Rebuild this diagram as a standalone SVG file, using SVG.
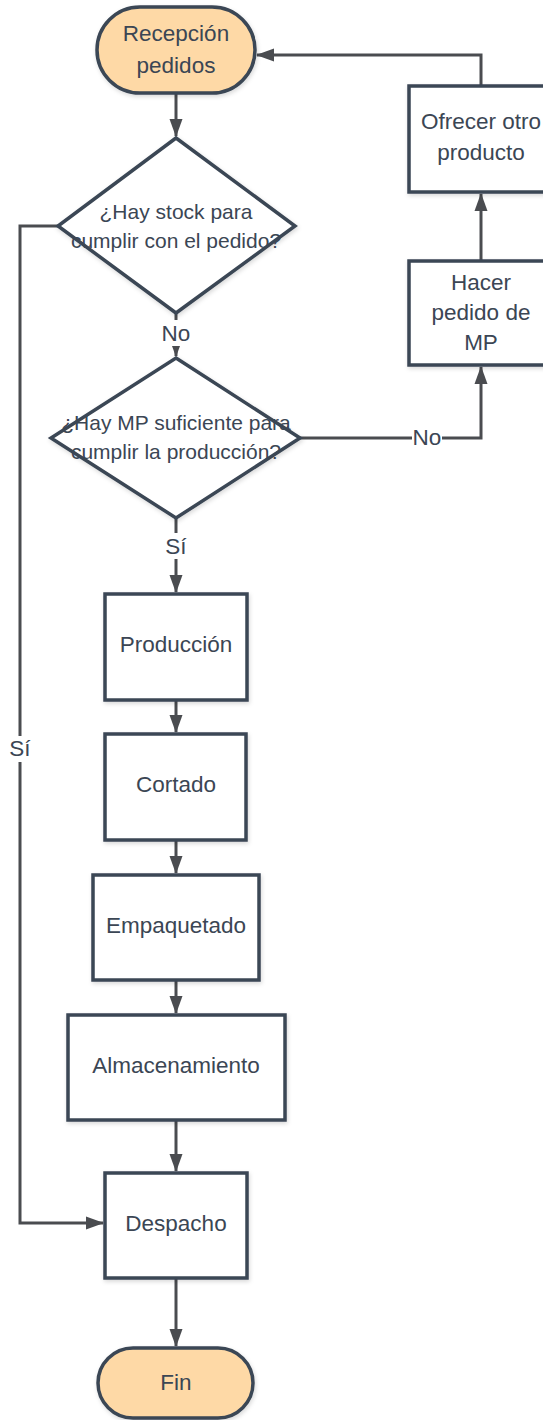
<svg xmlns="http://www.w3.org/2000/svg" width="543" height="1420" viewBox="0 0 543 1420">
<style>
.t{font-family:"Liberation Sans",Arial,sans-serif;font-size:22.5px;fill:#3b4654;text-anchor:middle}
.d{font-size:21px}
.term{fill:#fed9a6;stroke:#3b4654;stroke-width:3.5}
.box{fill:#ffffff;stroke:#3b4654;stroke-width:3.5}
.c{fill:none;stroke:#4a4c50;stroke-width:3}
.lbl{fill:#ffffff}
</style>
<defs>
<marker id="ah" markerWidth="18" markerHeight="14" refX="17" refY="7" orient="auto" markerUnits="userSpaceOnUse">
<path d="M0,0.5 L18,7 L0,13.5 Z" fill="#4a4c50"/>
</marker>
<filter id="sh" x="-10%" y="-10%" width="125%" height="125%">
<feDropShadow dx="1" dy="2" stdDeviation="2" flood-color="#000" flood-opacity="0.15"/>
</filter>
</defs>
<g id="connectors">
<path class="c" d="M176,93 L176,136" marker-end="url(#ah)"/>
<path class="c" d="M176,313 L176,356" marker-end="url(#ah)"/>
<path class="c" d="M300,438 L481,438 L481,367" marker-end="url(#ah)"/>
<path class="c" d="M481,261 L481,194" marker-end="url(#ah)"/>
<path class="c" d="M481,86 L481,55 L257,55" marker-end="url(#ah)"/>
<path class="c" d="M176,518 L176,592" marker-end="url(#ah)"/>
<path class="c" d="M176,700 L176,732" marker-end="url(#ah)"/>
<path class="c" d="M176,840 L176,873" marker-end="url(#ah)"/>
<path class="c" d="M176,980 L176,1013" marker-end="url(#ah)"/>
<path class="c" d="M176,1120 L176,1171" marker-end="url(#ah)"/>
<path class="c" d="M176,1278 L176,1346" marker-end="url(#ah)"/>
<path class="c" d="M58,226 L20,226 L20,1223 L103,1223" marker-end="url(#ah)"/>
<rect class="lbl" x="162" y="320" width="28" height="26"/>
<text class="t" x="176" y="341">No</text>
<rect class="lbl" x="412" y="426" width="30" height="24"/>
<text class="t" x="427" y="445">No</text>
<rect class="lbl" x="164" y="533" width="24" height="26"/>
<text class="t" x="176" y="554">Sí</text>
<rect class="lbl" x="8" y="736" width="24" height="26"/>
<text class="t" x="20" y="756">Sí</text>
</g>
<g id="recepcion">
<rect class="term" x="97" y="7" width="158" height="86" rx="43" filter="url(#sh)"/>
<text class="t" x="176" y="41">Recepción</text>
<text class="t" x="176" y="73">pedidos</text>
</g>
<g id="stock">
<polygon class="box" points="176,138 295,226 176,313 58,226" filter="url(#sh)"/>
<text class="t d" x="176" y="219">¿Hay stock para</text>
<text class="t d" x="176" y="248">cumplir con el pedido?</text>
</g>
<g id="mp">
<polygon class="box" points="176,358 300,438 176,518 51,438" filter="url(#sh)"/>
<text class="t d" x="176" y="430">¿Hay MP suficiente para</text>
<text class="t d" x="176" y="459">cumplir la producción?</text>
</g>
<g id="hacer">
<rect class="box" x="409" y="261" width="144" height="104" filter="url(#sh)"/>
<text class="t" x="481" y="290">Hacer</text>
<text class="t" x="481" y="320">pedido de</text>
<text class="t" x="481" y="350">MP</text>
</g>
<g id="ofrecer">
<rect class="box" x="409" y="86" width="144" height="106" filter="url(#sh)"/>
<text class="t" x="481" y="129">Ofrecer otro</text>
<text class="t" x="481" y="160">producto</text>
</g>
<g id="produccion">
<rect class="box" x="105" y="594" width="142" height="106" filter="url(#sh)"/>
<text class="t" x="176" y="652">Producción</text>
</g>
<g id="cortado">
<rect class="box" x="105" y="734" width="141" height="106" filter="url(#sh)"/>
<text class="t" x="176" y="792">Cortado</text>
</g>
<g id="empaquetado">
<rect class="box" x="93" y="875" width="166" height="105" filter="url(#sh)"/>
<text class="t" x="176" y="933">Empaquetado</text>
</g>
<g id="almacenamiento">
<rect class="box" x="68" y="1015" width="217" height="105" filter="url(#sh)"/>
<text class="t" x="176" y="1073">Almacenamiento</text>
</g>
<g id="despacho">
<rect class="box" x="105" y="1173" width="142" height="105" filter="url(#sh)"/>
<text class="t" x="176" y="1231">Despacho</text>
</g>
<g id="fin">
<rect class="term" x="98" y="1348" width="155" height="70" rx="35" filter="url(#sh)"/>
<text class="t" x="176" y="1390">Fin</text>
</g>
</svg>
